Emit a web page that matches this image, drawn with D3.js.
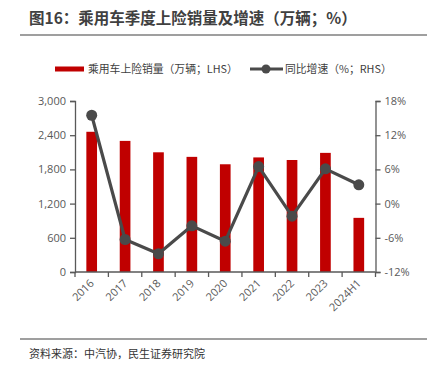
<!DOCTYPE html>
<html><head><meta charset="utf-8">
<script src="https://cdn.jsdelivr.net/npm/d3@7"></script>
<style>body{margin:0;background:#fff;}svg{display:block;font-family:"Noto Sans CJK SC","Noto Sans",sans-serif;}</style>
</head><body><svg id="c" width="431" height="368"></svg>
<script>
const categories = ["2016","2017","2018","2019","2020","2021","2022","2023","2024H1"];
const sales = [2460, 2300, 2100, 2020, 1890, 2010, 1965, 2090, 950];
const growth = [15.5, -6.3, -8.8, -3.9, -6.6, 6.5, -2.2, 6.1, 3.3];
const leftTicks = [0, 600, 1200, 1800, 2400, 3000];
const rightTicks = [-12, -6, 0, 6, 12, 18];

const svg = d3.select("#c");
const L = 75, R = 375.5, T = 101, B = 272;
const x = d3.scaleBand().domain(categories).range([L, R]).paddingInner(0.68).paddingOuter(0.34);
const xb = d3.scaleBand().domain(categories).range([L, R]);
const yL = d3.scaleLinear().domain([0, 3000]).range([B, T]);
const yR = d3.scaleLinear().domain([-12, 18]).range([B, T]);
const axisColor = "#595959", textColor = "#595959";

// title
svg.append("text").attr("x", 29).attr("y", 24).attr("font-size", 15.5).attr("font-weight", "bold")
  .attr("fill", "#404040").text("图16：乘用车季度上险销量及增速（万辆；%）");
svg.append("line").attr("x1", 20).attr("x2", 427).attr("y1", 35).attr("y2", 35).attr("stroke", "#404040").attr("stroke-width", 1.2);

// legend
svg.append("rect").attr("x", 55).attr("y", 66.5).attr("width", 29).attr("height", 5).attr("fill", "#c00000");
svg.append("text").attr("x", 88).attr("y", 73).attr("font-size", 10.8).attr("fill", "#404040").text("乘用车上险销量（万辆；LHS）");
svg.append("line").attr("x1", 250).attr("x2", 283).attr("y1", 69).attr("y2", 69).attr("stroke", "#4a4a4a").attr("stroke-width", 3);
svg.append("circle").attr("cx", 266).attr("cy", 69).attr("r", 4.5).attr("fill", "#4a4a4a");
svg.append("text").attr("x", 285).attr("y", 73).attr("font-size", 10.8).attr("fill", "#404040").text("同比增速（%；RHS）");

// bars
svg.append("g").selectAll("rect").data(categories).join("rect")
  .attr("x", d => x(d)).attr("width", x.bandwidth())
  .attr("y", (d, i) => yL(sales[i])).attr("height", (d, i) => B - yL(sales[i]))
  .attr("fill", "#c00000");

// axes
const gl = svg.append("g").attr("transform", `translate(${L},0)`)
  .call(d3.axisLeft(yL).tickValues(leftTicks).tickFormat(d3.format(",")).tickSize(5).tickPadding(4));
const gr = svg.append("g").attr("transform", `translate(${R},0)`)
  .call(d3.axisRight(yR).tickValues(rightTicks).tickFormat(d => d + "%").tickSize(5).tickPadding(4));
const gx = svg.append("g").attr("transform", `translate(0,${B})`)
  .call(d3.axisBottom(xb).tickSize(0).tickFormat(""));
// x tick marks at band boundaries
svg.append("g").selectAll("line").data(d3.range(categories.length + 1)).join("line")
  .attr("x1", i => L + i * xb.step()).attr("x2", i => L + i * xb.step())
  .attr("y1", B).attr("y2", B + 5).attr("stroke", axisColor).attr("stroke-width", 1.3);
[gl, gr, gx].forEach(g => {
  g.select(".domain").attr("stroke", axisColor).attr("stroke-width", 1.3);
  g.selectAll(".tick line").attr("stroke", axisColor).attr("stroke-width", 1.3);
  g.selectAll("text").attr("fill", textColor).attr("font-size", 11).attr("font-family", "'Open Sans','Noto Sans',sans-serif");
});
gx.select(".domain").attr("d", `M${L},0H${R}`);
// x labels
svg.append("g").selectAll("text").data(categories).join("text")
  .attr("transform", d => `translate(${xb(d) + xb.bandwidth() / 2 + 3},${B + 12}) rotate(-45)`)
  .attr("text-anchor", "end").attr("font-size", 11).attr("fill", textColor)
  .attr("font-family", "'Open Sans','Noto Sans',sans-serif").text(d => d);

// line
const line = d3.line().x((d, i) => xb(categories[i]) + xb.bandwidth() / 2).y(d => yR(d));
svg.append("path").datum(growth).attr("d", line).attr("fill", "none").attr("stroke", "#4a4a4a").attr("stroke-width", 3.2).attr("stroke-linejoin", "round");
svg.append("g").selectAll("circle").data(growth).join("circle")
  .attr("cx", (d, i) => xb(categories[i]) + xb.bandwidth() / 2).attr("cy", d => yR(d)).attr("r", 5.5).attr("fill", "#4a4a4a");

// footer
svg.append("line").attr("x1", 20).attr("x2", 427).attr("y1", 339).attr("y2", 339).attr("stroke", "#404040").attr("stroke-width", 1.2);
svg.append("text").attr("x", 29).attr("y", 358).attr("font-size", 11).attr("fill", "#333").text("资料来源：中汽协，民生证券研究院");
</script></body></html>
